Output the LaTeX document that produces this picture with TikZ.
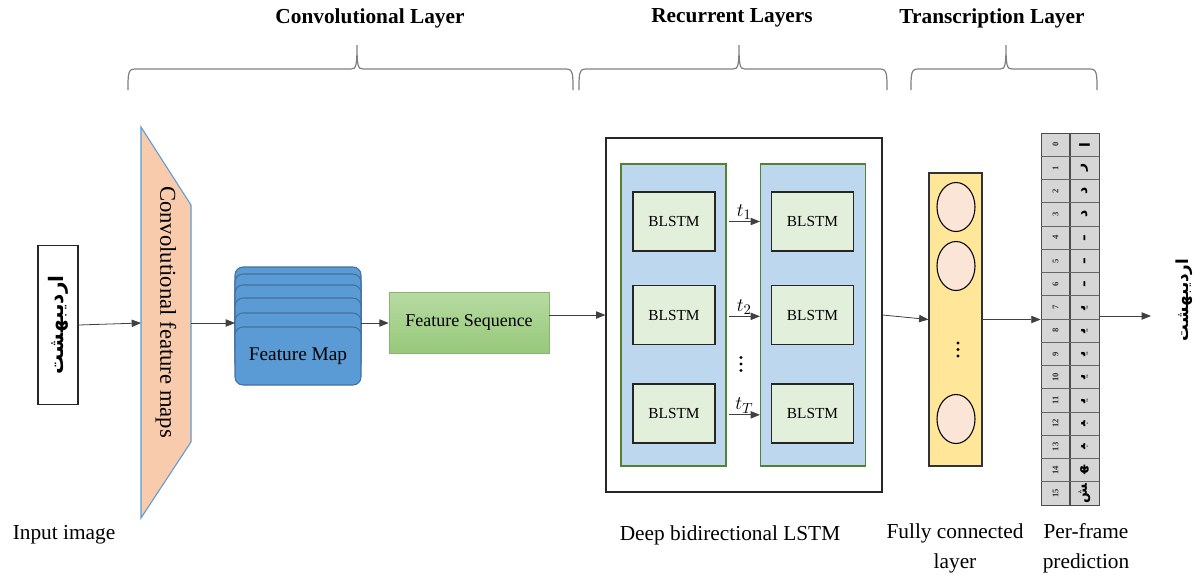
\documentclass[tikz,border=0pt]{standalone}
\usepackage{fontspec}
\setmainfont{Liberation Serif}
\newfontfamily\arabicfont[Script=Arabic]{DejaVu Sans}
\TeXXeTstate=1
\usetikzlibrary{arrows.meta,shapes.geometric}
\definecolor{peach}{HTML}{F8CBAD}
\definecolor{edgeblue}{HTML}{5B9BD5}
\definecolor{fmfill}{HTML}{5B9BD5}
\definecolor{fmedge}{HTML}{41719C}
\definecolor{fstop}{HTML}{B7DBA2}
\definecolor{fsbot}{HTML}{97C87A}
\definecolor{colfill}{HTML}{BDD7EE}
\definecolor{coledge}{HTML}{548235}
\definecolor{blfill}{HTML}{E2EFDA}
\definecolor{fcfill}{HTML}{FFE699}
\definecolor{neufill}{HTML}{FBE5D6}
\definecolor{tabfill}{HTML}{D6D6D6}
\definecolor{bracegray}{HTML}{7F7F7F}
\newcommand\mybrace[3]{%
  \draw[bracecurve] (#1,90) .. controls (#1,74) and (#1,69) .. ({#1+7},69)
    -- ({#3-6},69) .. controls ({#3-1},69) and (#3,66) .. (#3,45)
    .. controls (#3,66) and ({#3+1},69) .. ({#3+6},69)
    -- ({#2-7},69) .. controls (#2,69) and (#2,74) .. (#2,90);}
\begin{document}
\begin{tikzpicture}[x=0.75pt,y=-0.75pt,
  bracecurve/.style={draw=bracegray, line width=0.9pt},
  ttl/.style={font=\fontsize{16}{19}\selectfont\bfseries, inner sep=0pt},
  lbl/.style={font=\fontsize{16}{22.5}\selectfont, inner sep=0pt},
  arr/.style={-{Triangle[length=7pt,width=5.5pt]}, draw=black!75, line width=0.6pt},
  fmap/.style={draw=fmedge, fill=fmfill, rounded corners=6pt, line width=0.8pt},
  blstm/.style={draw=black!85, fill=blfill, line width=1pt, minimum width=61.5pt, minimum height=44.25pt, font=\fontsize{11.5}{13}\selectfont, inner sep=0pt},
  column/.style={draw=coledge, fill=colfill, line width=0.8pt, minimum width=78.75pt, minimum height=226.5pt},
  neuron/.style={ellipse, draw=black, fill=neufill, line width=0.8pt, minimum width=28.5pt, minimum height=36.75pt, inner sep=0pt},
  digit/.style={rotate=90, font=\bfseries\fontsize{6.5}{7}\selectfont, inner sep=0pt, text=black!80},
  glyph/.style={rotate=90, font=\arabicfont\bfseries\fontsize{10.5}{12}\selectfont, inner sep=0pt},
  tlabel/.style={font=\fontsize{15}{17}\selectfont, inner sep=1pt},
  dotmark/.style={fill=black, draw=none}
]
\useasboundingbox (0,0) rectangle (1200,579);

% titles and braces
\node[ttl] (tconv) at (370,18) {Convolutional Layer};
\node[ttl] (trec) at (732,18) {Recurrent Layers};
\node[ttl] (ttrans) at (992,18) {Transcription Layer};
\mybrace{128}{573}{357}
\mybrace{579}{887}{739}
\mybrace{911}{1097}{1006}

% input image
\node[draw=black!85, line width=0.8pt, rotate=90, minimum width=119.25pt, minimum height=30pt, inner sep=0pt,
      font=\arabicfont\bfseries\fontsize{15}{17}\selectfont] (inp) at (58,325) {\beginR اردیبهشت\endR};
\node[lbl] (linp) at (64,535) {Input image};

% trapezoid
\filldraw[fill=peach, draw=edgeblue, line width=0.8pt] (141,127) -- (191,205) -- (191,442) -- (141,518) -- cycle;
\coordinate (trapL) at (141,323);
\coordinate (trapR) at (191,323);
\node[rotate=-90, font=\fontsize{17}{19}\selectfont, inner sep=0pt] (conv) at (166,312) {Convolutional feature maps};
\draw[arr] (inp.south) -- (trapL);

% feature maps stack
\foreach \t in {267,274,285,298,313}{
  \draw[fmap] (235,\t) rectangle (361,{\t+58});
}
\node[fmap, minimum width=94.5pt, minimum height=43.5pt, font=\fontsize{14.5}{16}\selectfont] (fm) at (298,356) {Feature Map};
\coordinate (fmin) at (235,323);
\coordinate (fmout) at (361,323);
\draw[arr] (trapR) -- (fmin);

% feature sequence
\node[top color=fstop, bottom color=fsbot, draw=fsbot!90!black, line width=0.4pt, minimum width=120pt, minimum height=45.75pt,
      font=\fontsize{13.5}{15}\selectfont] (fs) at (469,322.5) {Feature Sequence};
\draw[arr] (fmout) -- (fmout -| fs.west);

% LSTM block
\node[draw=black!85, line width=0.9pt, minimum width=207pt, minimum height=265.5pt] (lstm) at (744,315) {};
\node[column] (colL) at (673.5,315) {};
\node[column] (colR) at (813,315) {};
\node[blstm] (bl1) at (674,221.5) {BLSTM};
\node[blstm] (bl2) at (674,315) {BLSTM};
\node[blstm] (bl3) at (674,413.5) {BLSTM};
\node[blstm] (br1) at (812.5,221.5) {BLSTM};
\node[blstm] (br2) at (812.5,315) {BLSTM};
\node[blstm] (br3) at (812.5,413.5) {BLSTM};
\draw[arr] ([xshift=1.5pt]bl1 -| colL.east) -- node[tlabel, above] {$t_1$} (bl1 -| colR.west);
\draw[arr] ([xshift=1.5pt,yshift=-1pt]bl2 -| colL.east) -- node[tlabel, above] {$t_2$} ([yshift=-1pt]bl2 -| colR.west);
\draw[arr] ([xshift=1.5pt,yshift=-1pt]bl3 -| colL.east) -- node[tlabel, above] {$t_T$} ([yshift=-1pt]bl3 -| colR.west);
\foreach \yy in {357.5,364,370.5}{ \fill[dotmark] (741,\yy) circle (1.3pt); }
\draw[arr] (fs.east |- lstm.west) -- (lstm.west);
\node[lbl] (llstm) at (730,535) {Deep bidirectional LSTM};

% fully connected layer
\node[draw=black!80, fill=fcfill, line width=0.9pt, minimum width=39.75pt, minimum height=219.75pt] (fc) at (955.5,319.5) {};
\node[neuron] (n1) at (956,207) {};
\node[neuron] (n2) at (956,266) {};
\node[neuron] (n3) at (956,419) {};
\foreach \yy in {343,349.5,356}{ \fill[dotmark] (958,\yy) circle (1.3pt); }
\draw[arr] (lstm.east) -- (fc.west);
\node[lbl, align=center] (lfc) at (955,548) {Fully connected\\layer};

% per-frame prediction table
\node[draw=black!70, fill=tabfill, line width=0.6pt, minimum width=43.5pt, minimum height=279pt, inner sep=0pt] (tab) at (1070,319) {};
\draw[black!70, line width=0.8pt] (1070,133) -- (1070,505);
\foreach \i in {1,...,15}{
  \draw[black!60, line width=0.5pt] (1041,{133+23.25*\i}) -- (1099,{133+23.25*\i});
}
\foreach \i in {0,...,15}{
  \node[digit] (d\i) at (1055.5,{133+23.25*(\i+0.5)}) {\i};
}
\foreach \i/\g in {0/ا,1/ر,2/د,3/د,4/ـ,5/ـ,6/ـ,7/ی^^^^200d,8/ی^^^^200d,9/ی^^^^200d,10/ی^^^^200d,11/ی^^^^200d,12/^^^^200dب^^^^200d,13/^^^^200dب^^^^200d,14/^^^^200dه^^^^200d,15/^^^^200dش}{
  \node[glyph] (g\i) at (1084.5,{133+23.25*(\i+0.5)}) {\beginR\g\endR};
}
\draw[arr] (fc.east) -- (fc.east -| tab.west);
\node[lbl, align=center] (lpf) at (1086,548) {Per-frame\\prediction};

% output
\coordinate (outend) at (1151,316);
\draw[arr] (tab.east |- outend) -- (outend);
\node[rotate=90, inner sep=0pt, font=\arabicfont\bfseries\fontsize{12.5}{14}\selectfont] (outw) at (1184,300) {\beginR اردیبهشت\endR};
\end{tikzpicture}
\end{document}
